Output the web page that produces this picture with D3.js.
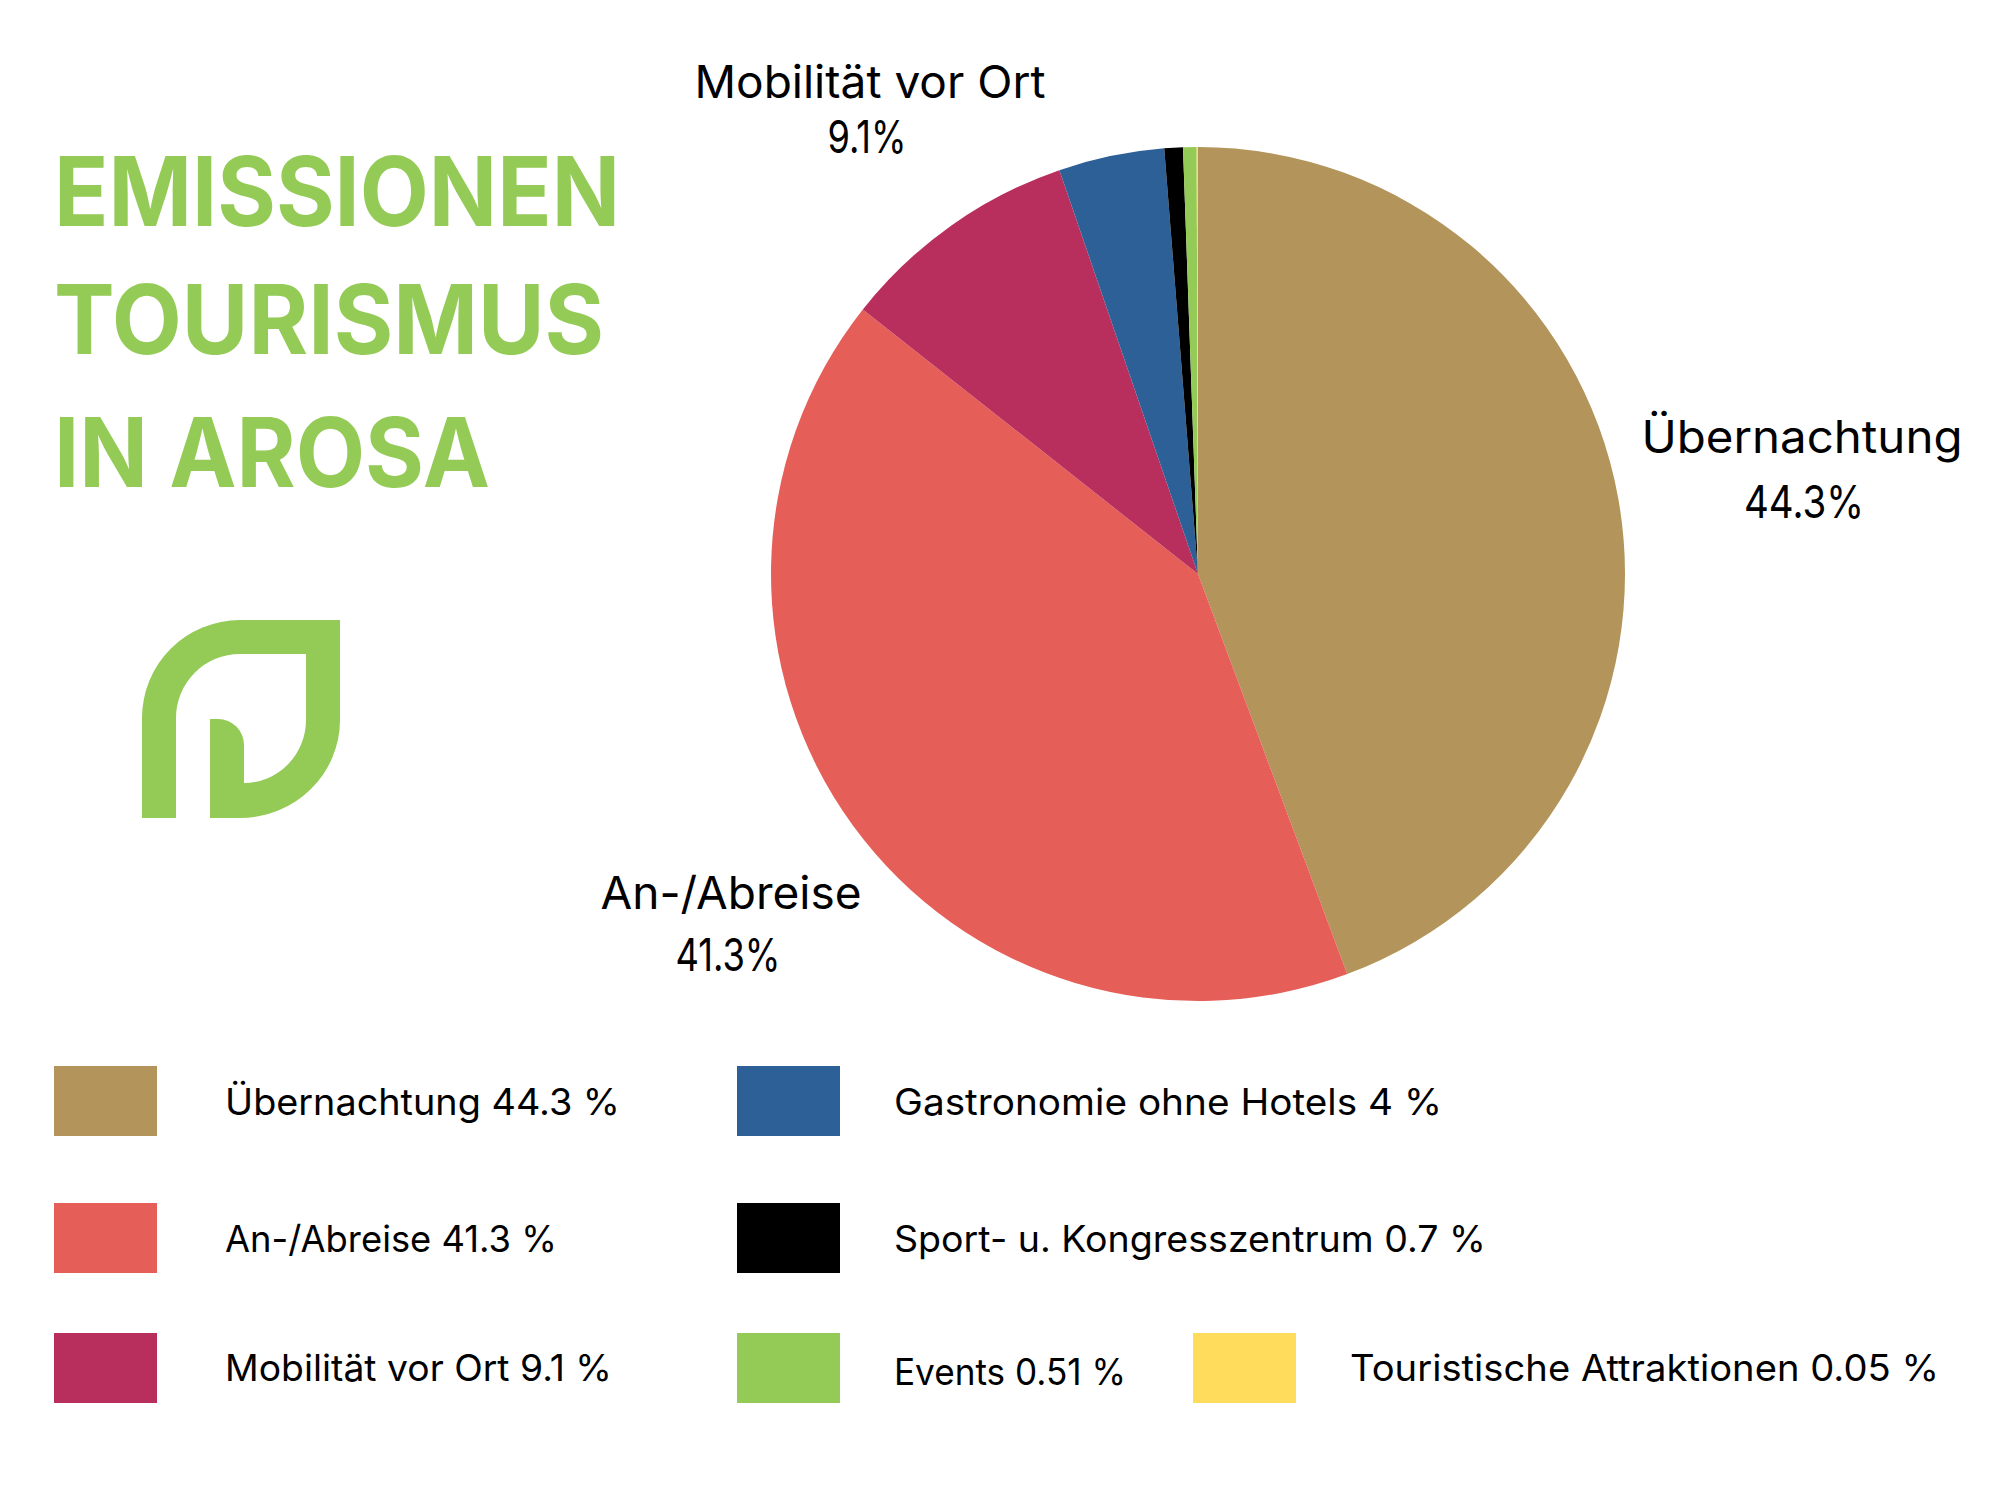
<!DOCTYPE html>
<html>
<head>
<meta charset="utf-8">
<script src="https://cdn.jsdelivr.net/npm/d3@7"></script>
<style>
  html, body { margin: 0; background: #fff; }
  text { font-family: "Inter", sans-serif; fill: #000; }
</style>
</head>
<body>
<div id="chart"></div>
<script>
const categories = ["Übernachtung", "An-/Abreise", "Mobilität vor Ort", "Gastronomie ohne Hotels", "Sport- u. Kongresszentrum", "Events", "Touristische Attraktionen"];
const values = [44.3, 41.3, 9.1, 4, 0.7, 0.51, 0.05];
const valueLabels = ["44.3", "41.3", "9.1", "4", "0.7", "0.51", "0.05"];
const colors = ["#B3945B", "#E55E58", "#B82E5C", "#2E6098", "#000000", "#94CB57", "#FFDC5B"];
const titleLines = ["EMISSIONEN", "TOURISMUS", "IN AROSA"];

const width = 2000, height = 1500;
const green = "#94CB57";

const svg = d3.select("#chart").append("svg")
    .attr("width", width)
    .attr("height", height)
    .attr("viewBox", [0, 0, width, height]);

// pie
const cx = 1198, cy = 574, radius = 427;
const pie = d3.pie().value(d => d).sort(null);
const arc = d3.arc().innerRadius(0).outerRadius(radius);
svg.append("g")
    .attr("transform", `translate(${cx},${cy})`)
    .selectAll("path")
    .data(pie(values))
    .join("path")
    .attr("d", arc)
    .attr("fill", (d, i) => colors[i]);

// direct labels for the three big slices
// no Poppins here, so text widths are forced to what the reference measures
const labelSpots = [
    {i: 0, x: 1802, y: 453, w: 321, dx: 2, dy: 65, w2: 120},
    {i: 1, x: 731, y: 909, w: 261, dx: -3, dy: 62, w2: 105},
    {i: 2, x: 870, y: 98, w: 351, dx: -3, dy: 55, w2: 79}
];
const labels = svg.append("g").attr("font-size", 45);
labelSpots.forEach(s => {
    labels.append("text").attr("x", s.x).attr("y", s.y)
        .attr("text-anchor", "middle")
        .attr("textLength", s.w).attr("lengthAdjust", "spacingAndGlyphs")
        .text(categories[s.i]);
    labels.append("text").attr("x", s.x + s.dx).attr("y", s.y + s.dy)
        .attr("text-anchor", "middle")
        .attr("textLength", s.w2).attr("lengthAdjust", "spacingAndGlyphs")
        .text(valueLabels[s.i] + "%");
});

// title
const titleY = [226, 354, 487];
const titleW = [566, 550, 436];
svg.append("g").selectAll("text")
    .data(titleLines)
    .join("text")
    .attr("x", 54)
    .attr("y", (d, i) => titleY[i])
    .attr("font-size", 96)
    .attr("font-weight", 700)
    .attr("textLength", (d, i) => titleW[i])
    .attr("lengthAdjust", "spacingAndGlyphs")
    .style("fill", green)
    .text(d => d);

// logo, leaf shape
svg.append("path")
    .attr("fill", green)
    .attr("d", "M142 818V718A98 98 0 0 1 240 620H340V720A100 98 0 0 1 240 818H210V719H218A26 26 0 0 1 244 745V783A62 63 0 0 0 306 720V654H240A64 64 0 0 0 176 718V818Z");

// legend
const legendCol = [54, 737, 1193];
const legendTextX = [225, 894, 1350];
const legendRows = [
    {col: 0, top: 1066, base: 1115, w: 395}, {col: 0, top: 1203, base: 1252, w: 332}, {col: 0, top: 1333, base: 1381, w: 387},
    {col: 1, top: 1066, base: 1115, w: 548}, {col: 1, top: 1203, base: 1252, w: 592}, {col: 1, top: 1333, base: 1385, w: 232},
    {col: 2, top: 1333, base: 1381, w: 589}
];
const legend = svg.append("g").selectAll("g")
    .data(categories)
    .join("g");
legend.append("rect")
    .attr("x", (d, i) => legendCol[legendRows[i].col])
    .attr("y", (d, i) => legendRows[i].top)
    .attr("width", 103)
    .attr("height", 70)
    .attr("fill", (d, i) => colors[i]);
legend.append("text")
    .attr("x", (d, i) => legendTextX[legendRows[i].col])
    .attr("y", (d, i) => legendRows[i].base)
    .attr("font-size", 37)
    .attr("textLength", (d, i) => legendRows[i].w)
    .attr("lengthAdjust", "spacingAndGlyphs")
    .text((d, i) => `${d} ${valueLabels[i]} %`);
</script>
</body>
</html>
